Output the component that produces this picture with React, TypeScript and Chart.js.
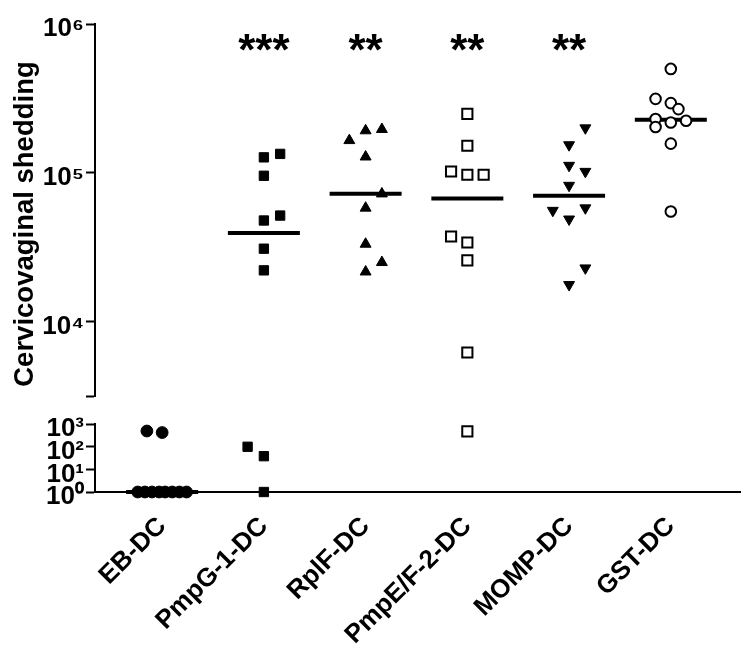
import React, { useEffect, useRef } from 'react';
import { Chart, registerables } from 'chart.js';

Chart.register(...registerables);

// ---------- data ----------
const categories = ['EB-DC', 'PmpG-1-DC', 'RplF-DC', 'PmpE/F-2-DC', 'MOMP-DC', 'GST-DC'];
const yTitle = 'Cervicovaginal shedding';

// values per mouse (1 = 10^0 baseline)
const ebDC = [490, 420, 1, 1, 1, 1, 1, 1, 1, 1];
const pmpG1DC = [127000, 134000, 95500, 47800, 51600, 30900, 22100, 99, 38, 1];
const rplFDC = [165000, 192000, 196000, 128000, 72300, 58000, 33200, 25000, 21600];
const pmpEF2DC = [249000, 152000, 102000, 97000, 97000, 37300, 34000, 25800, 6200, 475];
const mompDC = [200000, 154000, 112000, 102000, 82200, 55800, 58000, 48800, 22900, 17700];
const gstDC = [499000, 314000, 294000, 268000, 230000, 218000, 224000, 203000, 157000, 55000];

// horizontal scatter of each point within its column (category units)
const ebJitter = [-0.15, 0, -0.24, -0.17, -0.1, -0.03, 0.03, 0.1, 0.17, 0.24];
const pmpG1Jitter = [0, 0.16, 0, 0, 0.16, 0, 0, -0.16, 0, 0];
const rplFJitter = [-0.16, 0, 0.16, 0, 0.16, 0, 0, 0.16, 0];
const pmpEF2Jitter = [0, 0, -0.16, 0, 0.16, -0.16, 0, 0, 0, 0];
const mompJitter = [0.16, 0, 0, 0.16, 0, -0.16, 0.16, 0, 0.16, 0];
const gstJitter = [0, -0.15, 0, 0.075, -0.15, 0, 0.15, -0.15, 0, 0];

const significance = ['', '***', '**', '**', '**', ''];
const asteriskLevel = 5.3e5;

const upperTicks = [1e4, 1e5, 1e6];
const lowerTicks = [1, 10, 100, 1000];
const upperMin = Math.pow(10, 3.5);
const upperMax = 1e6;
const lowerMin = 1;
const lowerMax = 1000;

// ---------- styling ----------
const FONT = "'Liberation Sans', Arial, Helvetica, sans-serif";
const groupValues = [ebDC, pmpG1DC, rplFDC, pmpEF2DC, mompDC, gstDC];
const groupJitter = [ebJitter, pmpG1Jitter, rplFJitter, pmpEF2Jitter, mompJitter, gstJitter];
const markerStyles = [
  { pointStyle: 'circle', radius: 5.9, fill: '#000', border: 1, rotation: 0 },
  { pointStyle: 'rect', radius: 6.6, fill: '#000', border: 1, rotation: 0 },
  { pointStyle: 'triangle', radius: 6.3, fill: '#000', border: 1, rotation: 0 },
  { pointStyle: 'rect', radius: 7.2, fill: '#fff', border: 2, rotation: 0 },
  { pointStyle: 'triangle', radius: 6.3, fill: '#000', border: 1, rotation: 180 },
  { pointStyle: 'circle', radius: 5.3, fill: '#fff', border: 2, rotation: 0 },
];

const SUP: Record<string, string> = {
  '0': '\u2070', '1': '\u00b9', '2': '\u00b2', '3': '\u00b3', '4': '\u2074',
  '5': '\u2075', '6': '\u2076', '7': '\u2077', '8': '\u2078', '9': '\u2079',
};

function powerLabel(v: number): string {
  const l = Math.log10(v);
  const r = Math.round(l);
  if (Math.abs(l - r) > 1e-6) return '';
  return '10' + String(r).split('').map((c) => SUP[c] || c).join('');
}

function median(arr: number[]): number {
  const s = [...arr].sort((a, b) => a - b);
  const m = Math.floor(s.length / 2);
  return s.length % 2 ? s[m] : (s[m - 1] + s[m]) / 2;
}

const annotationPlugin = {
  id: 'annotations',
  afterDatasetsDraw(chart: any) {
    const { ctx, scales } = chart;
    const xs = scales.x;
    const yt = scales.yTop;
    const yb = scales.yBot;
    ctx.save();
    ctx.font = `bold 44px ${FONT}`;
    ctx.fillStyle = '#000';
    ctx.textAlign = 'center';
    ctx.textBaseline = 'alphabetic';
    significance.forEach((s, i) => {
      if (s) ctx.fillText(s, xs.getPixelForValue(i), yt.getPixelForValue(asteriskLevel));
    });
    // y-axis title, centred on the axis from its top to the lower segment's top
    const cy = (yt.getPixelForValue(upperMax) + yb.getPixelForValue(lowerMax)) / 2;
    ctx.translate(yt.left + 25, cy);
    ctx.rotate(-Math.PI / 2);
    ctx.font = `bold 27.5px ${FONT}`;
    ctx.textBaseline = 'middle';
    ctx.fillText(yTitle, 0, 0);
    ctx.restore();
  },
};

function buildDatasets() {
  const pointSets: any[] = [];
  const medianTop: any[] = [];
  const medianBot: any[] = [];
  groupValues.forEach((vals, gi) => {
    const st = markerStyles[gi];
    const top: any[] = [];
    const bot: any[] = [];
    vals.forEach((v, k) => {
      const p = { x: gi + groupJitter[gi][k], y: v };
      if (v >= upperMin) top.push(p);
      else bot.push(p);
    });
    const base = {
      pointStyle: st.pointStyle,
      pointRadius: st.radius,
      pointRotation: st.rotation,
      backgroundColor: st.fill,
      borderColor: '#000',
      borderWidth: st.border,
      pointBorderWidth: st.border,
      pointBackgroundColor: st.fill,
      pointBorderColor: '#000',
      clip: false,
      showLine: false,
    };
    if (top.length) pointSets.push({ ...base, label: categories[gi], data: top, yAxisID: 'yTop' });
    if (bot.length) pointSets.push({ ...base, label: categories[gi] + ' low', data: bot, yAxisID: 'yBot' });
    const md = median(vals);
    if (md >= upperMin) medianTop.push({ x: gi, y: md });
    else medianBot.push({ x: gi, y: md });
  });
  const medBase = {
    pointStyle: 'line',
    pointRadius: 36,
    pointBorderWidth: 4,
    borderWidth: 4,
    pointBorderColor: '#000',
    borderColor: '#000',
    clip: false,
    showLine: false,
  };
  return [
    ...pointSets,
    { ...medBase, label: 'median', data: medianTop, yAxisID: 'yTop' },
    { ...medBase, label: 'median low', data: medianBot, yAxisID: 'yBot' },
  ];
}

function logAxis(min: number, max: number, ticks: number[], weight: number, stackWeight: number) {
  return {
    type: 'logarithmic',
    position: 'left',
    stack: 'y',
    stackWeight,
    weight,
    min,
    max,
    afterBuildTicks: (s: any) => {
      s.ticks = ticks.map((v) => ({ value: v }));
    },
    afterFit: (s: any) => {
      s.width = 95;
      s.paddingTop = 0;
      s.paddingBottom = 0;
    },
    border: { display: true, color: '#000', width: 2 },
    grid: { drawOnChartArea: false, drawTicks: true, tickLength: 9, tickWidth: 2, tickColor: '#000' },
    ticks: {
      autoSkip: false,
      color: '#000',
      padding: 2,
      labelOffset: 5,
      font: { family: FONT, size: 26, weight: 'bold' },
      callback: (v: any) => powerLabel(Number(v)),
    },
    title: { display: false },
  };
}

export default function App() {
  const ref = useRef<HTMLCanvasElement | null>(null);
  useEffect(() => {
    if (!ref.current) return;
    const chart = new Chart(ref.current, {
      type: 'scatter',
      data: { datasets: buildDatasets() as any },
      plugins: [annotationPlugin as any],
      options: {
        animation: false,
        responsive: false,
        events: [],
        layout: { autoPadding: false, padding: { left: 0, right: 9, top: 24, bottom: 0 } },
        plugins: { legend: { display: false }, tooltip: { enabled: false } },
        scales: {
          x: {
            type: 'linear',
            position: 'bottom',
            min: -0.66,
            max: 5.68,
            afterBuildTicks: (s: any) => {
              s.ticks = categories.map((_, i) => ({ value: i }));
            },
            afterFit: (s: any) => {
              s.height = 155;
              s.paddingLeft = 0;
              s.paddingRight = 0;
            },
            border: { display: true, color: '#000', width: 2 },
            grid: { drawOnChartArea: false, drawTicks: false },
            ticks: {
              autoSkip: false,
              maxRotation: 45,
              minRotation: 45,
              padding: 19,
              color: '#000',
              font: { family: FONT, size: 26, weight: 'bold' },
              callback: (v: any) => categories[Math.round(Number(v))] ?? '',
            },
          },
          yBot: logAxis(lowerMin, lowerMax, lowerTicks, 1, 68) as any,
          yGap: {
            type: 'linear',
            position: 'left',
            stack: 'y',
            stackWeight: 28,
            weight: 2,
            afterFit: (s: any) => {
              s.width = 95;
              s.paddingTop = 0;
              s.paddingBottom = 0;
            },
            border: { display: false },
            grid: { display: false },
            ticks: { display: false },
          } as any,
          yTop: logAxis(upperMin, upperMax, [upperMin, ...upperTicks], 3, 372) as any,
        },
      } as any,
    });
    return () => chart.destroy();
  }, []);
  return (
    <div style={{ position: 'absolute', left: 0, top: 0, width: 749, height: 647, background: '#fff' }}>
      <canvas ref={ref} width={749} height={647} style={{ display: 'block', width: 749, height: 647 }} />
    </div>
  );
}
